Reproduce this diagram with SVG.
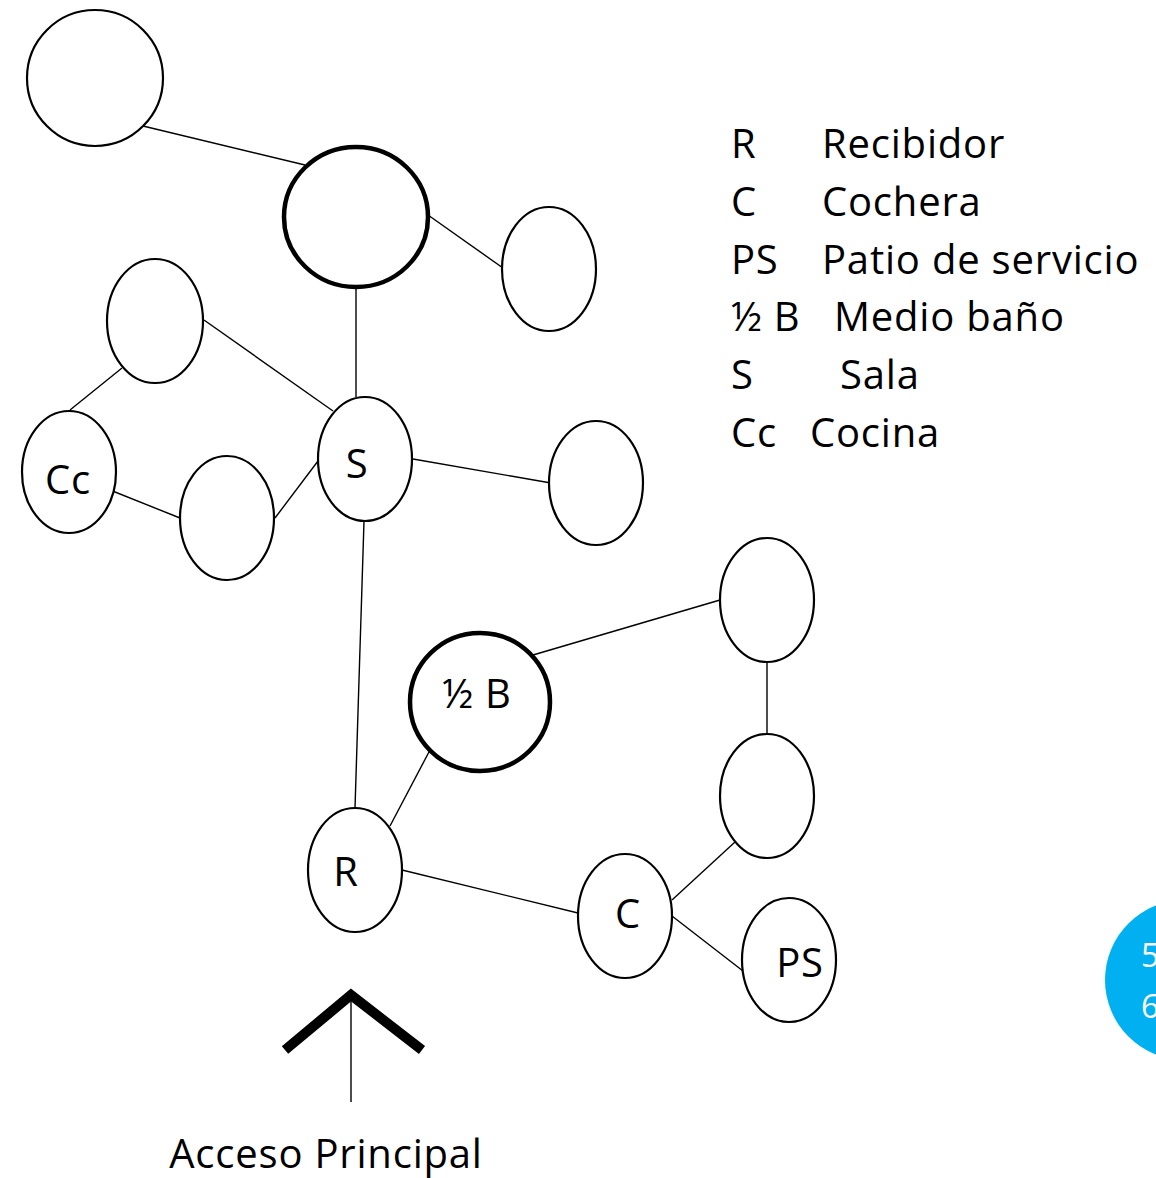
<svg xmlns="http://www.w3.org/2000/svg" width="1156" height="1178" viewBox="0 0 1156 1178">
<style>
.n{fill:#fff;stroke:#000;stroke-width:2.2}
.b{fill:#fff;stroke:#000;stroke-width:4.5}
.t{font-family:"Open Sans","Noto Sans",sans-serif;font-size:40px;letter-spacing:0.8px;fill:#000}
.c line{stroke:#000;stroke-width:1.4}
</style>
<rect width="1156" height="1178" fill="#fff"/>
<g id="connectors" class="c">
<line x1="143" y1="126" x2="305" y2="165"/>
<line x1="428" y1="215" x2="503" y2="268"/>
<line x1="356" y1="287" x2="356" y2="397"/>
<line x1="204" y1="320" x2="333" y2="411"/>
<line x1="122" y1="368" x2="70" y2="410"/>
<line x1="105" y1="488" x2="180" y2="518"/>
<line x1="275" y1="518" x2="318" y2="461"/>
<line x1="413" y1="459" x2="551" y2="483"/>
<line x1="364" y1="521" x2="355" y2="808"/>
<line x1="430" y1="750" x2="390" y2="826"/>
<line x1="533" y1="655" x2="720" y2="600"/>
<line x1="767" y1="662" x2="767" y2="734"/>
<line x1="735" y1="842" x2="672" y2="900"/>
<line x1="402" y1="870" x2="578" y2="913"/>
<line x1="672" y1="916" x2="743" y2="971"/>
</g>
<g id="n1"><ellipse class="n" cx="95" cy="78" rx="68" ry="68"/></g>
<g id="n2"><ellipse class="b" cx="356" cy="217" rx="72" ry="70"/></g>
<g id="n3"><ellipse class="n" cx="549" cy="269" rx="47" ry="62"/></g>
<g id="n4"><ellipse class="n" cx="155" cy="321" rx="48" ry="62"/></g>
<g id="nCc"><ellipse class="n" cx="69" cy="472" rx="47" ry="61"/><text class="t" x="68" y="494" text-anchor="middle">Cc</text></g>
<g id="n6"><ellipse class="n" cx="227" cy="518" rx="47" ry="62"/></g>
<g id="nS"><ellipse class="n" cx="365" cy="459" rx="47" ry="62"/><text class="t" x="357" y="478" text-anchor="middle">S</text></g>
<g id="n8"><ellipse class="n" cx="596" cy="483" rx="47" ry="62"/></g>
<g id="n9"><ellipse class="n" cx="767" cy="600" rx="47" ry="62"/></g>
<g id="nB"><ellipse class="b" cx="480" cy="702" rx="70" ry="69"/><text class="t" x="477" y="708" text-anchor="middle">½ B</text></g>
<g id="n11"><ellipse class="n" cx="767" cy="796" rx="47" ry="62"/></g>
<g id="nR"><ellipse class="n" cx="355" cy="870" rx="47" ry="62"/><text class="t" x="346" y="886" text-anchor="middle">R</text></g>
<g id="nC"><ellipse class="n" cx="625" cy="916" rx="47" ry="62"/><text class="t" x="628" y="928" text-anchor="middle">C</text></g>
<g id="nPS"><ellipse class="n" cx="789" cy="960" rx="47" ry="62"/><text class="t" x="800" y="977" text-anchor="middle">PS</text></g>
<g id="access">
<polyline points="285,1050 351,995 422,1050" fill="none" stroke="#000" stroke-width="10"/>
<line x1="351" y1="1000" x2="351" y2="1102" stroke="#000" stroke-width="1.4"/>
<text class="t" x="326" y="1168" text-anchor="middle">Acceso Principal</text>
</g>
<g id="legend" class="t">
<text x="731" y="158">R</text><text x="822" y="158">Recibidor</text>
<text x="731" y="216">C</text><text x="822" y="216">Cochera</text>
<text x="731" y="274">PS</text><text x="822" y="274">Patio de servicio</text>
<text x="731" y="331">½ B</text><text x="834" y="331">Medio baño</text>
<text x="731" y="389">S</text><text x="840" y="389">Sala</text>
<text x="731" y="447">Cc</text><text x="810" y="447">Cocina</text>
</g>
<g id="badge">
<circle cx="1185" cy="980" r="80" fill="#00b0f0"/>
<text x="1141" y="967" style="font-family:'Open Sans','Noto Sans',sans-serif;font-size:32px;fill:#fff">5</text>
<text x="1141" y="1018" style="font-family:'Open Sans','Noto Sans',sans-serif;font-size:32px;fill:#fff">6</text>
</g>
</svg>
